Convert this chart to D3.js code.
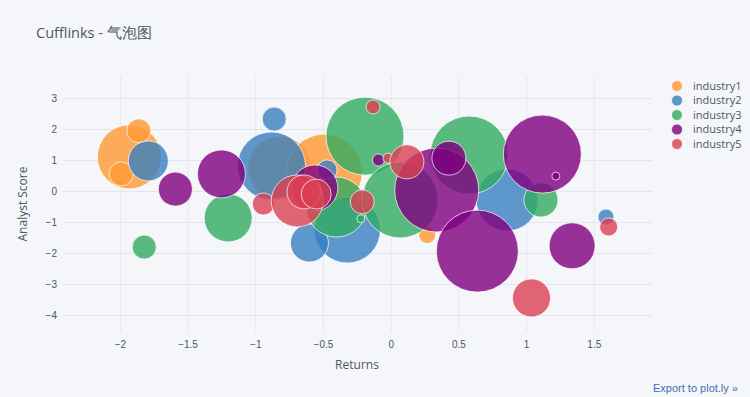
<!DOCTYPE html>
<html>
<head>
<meta charset="utf-8">
<script src="https://cdn.jsdelivr.net/npm/d3@7"></script>
<style>
  body { margin: 0; background: #F5F6F9; }
  svg { display: block; font-family: "Open Sans", "DejaVu Sans", sans-serif; }
</style>
</head>
<body>
<svg id="chart" width="750" height="397"></svg>
<script>
// series names and colours (cufflinks pearl theme)
var industries = ['industry1', 'industry2', 'industry3', 'industry4', 'industry5'];
var colors = ['#ff9933', '#3780bf', '#32ab60', '#800080', '#db4052'];

// [returns, analyst score, size]
var industry1 = [[-1.93, 1.10, 64], [-1.86, 1.94, 24], [-1.99, 0.55, 24], [-0.82, 0.74, 64],
                 [-0.49, 0.61, 76], [0.27, -1.42, 17]];
var industry2 = [[-1.79, 0.97, 40], [-0.86, 2.32, 24], [-0.88, 0.81, 68], [-0.47, 0.68, 20],
                 [-0.32, -1.26, 66], [-0.60, -1.68, 38], [0.86, -0.29, 62], [1.59, -0.84, 16],
                 [0.40, 1.06, 32]];
var industry3 = [[-1.82, -1.81, 24], [-1.20, -0.87, 48], [-0.19, 1.77, 78], [-0.40, -0.52, 60],
                 [-0.22, -0.90, 8], [0.07, -0.29, 76], [0.58, 1.16, 78], [1.11, -0.29, 34]];
var industry4 = [[-1.59, 0.06, 34], [-1.25, 0.55, 48], [-0.56, 0.10, 46], [-0.09, 1.00, 12],
                 [0.34, 0.03, 84], [0.43, 1.06, 34], [1.12, 1.19, 78], [1.22, 0.48, 8],
                 [0.64, -1.94, 82], [1.34, -1.77, 46]];
var industry5 = [[-0.13, 2.71, 14], [-0.02, 1.06, 10], [0.12, 0.94, 34], [-0.94, -0.42, 22],
                 [-0.69, -0.32, 52], [-0.64, -0.03, 34], [-0.55, -0.10, 30], [-0.21, -0.35, 24],
                 [1.04, -3.45, 38], [1.61, -1.16, 18]];
var series = [industry1, industry2, industry3, industry4, industry5];

var xTicks = [-2, -1.5, -1, -0.5, 0, 0.5, 1, 1.5];
var yTicks = [-4, -3, -2, -1, 0, 1, 2, 3];

var svg = d3.select('#chart');
var textColor = '#4D5663';
var gridColor = '#E1E5ED';

var x = d3.scaleLinear().domain([-2.42, 1.93]).range([63, 652]);
var y = d3.scaleLinear().domain([-4.55, 3.71]).range([332, 76]);
var r = d3.scaleLinear().domain([0, 100]).range([0, 50]);

var fmt = function(v) { return String(v).replace('-', '\u2212'); };

// grid
var xAxis = d3.axisBottom(x).tickValues(xTicks).tickSize(-(332 - 76)).tickFormat(fmt);
var gx = svg.append('g').attr('transform', 'translate(0,332)').call(xAxis);
gx.select('.domain').remove();
gx.selectAll('line').attr('stroke', '#E6E8EE');
gx.selectAll('text').attr('fill', textColor).attr('font-size', 10).attr('dy', '1.3em');

var yAxis = d3.axisLeft(y).tickValues(yTicks).tickSize(-(652 - 63)).tickFormat(fmt);
var gy = svg.append('g').attr('transform', 'translate(63,0)').call(yAxis);
gy.select('.domain').remove();
gy.selectAll('line').attr('stroke', gridColor);
gy.selectAll('text').attr('fill', textColor).attr('font-size', 10).attr('x', -6);

// bubbles, one layer per industry in trace order
series.forEach(function(pts, i) {
  svg.append('g')
    .attr('class', 'trace')
    .selectAll('circle')
    .data(pts)
    .enter().append('circle')
      .attr('cx', function(d) { return x(d[0]); })
      .attr('cy', function(d) { return y(d[1]); })
      .attr('r', function(d) { return r(d[2]); })
      .attr('fill', colors[i])
      .attr('fill-opacity', 0.8)
      .attr('stroke', '#ffffff')
      .attr('stroke-opacity', 0.7)
      .attr('stroke-width', 1);
});

// titles
svg.append('text').attr('x', 36).attr('y', 38)
  .attr('fill', textColor).attr('font-size', 14.5)
  .text('Cufflinks - 气泡图');

svg.append('text').attr('x', 357).attr('y', 369)
  .attr('text-anchor', 'middle').attr('fill', textColor).attr('font-size', 12)
  .text('Returns');

svg.append('text')
  .attr('transform', 'translate(27,204) rotate(-90)')
  .attr('text-anchor', 'middle').attr('fill', textColor).attr('font-size', 12)
  .text('Analyst Score');

// legend
var legend = svg.append('g').attr('transform', 'translate(677,86)');
var item = legend.selectAll('g').data(industries).enter().append('g')
  .attr('transform', function(d, i) { return 'translate(0,' + (i * 14.5) + ')'; });
item.append('circle').attr('r', 5.5)
  .attr('fill', function(d, i) { return colors[i]; })
  .attr('fill-opacity', 0.8)
  .attr('stroke', '#fff').attr('stroke-opacity', 0.7);
item.append('text').attr('x', 16).attr('dy', '0.35em')
  .attr('fill', textColor).attr('font-size', 11)
  .text(function(d) { return d; });

// export link
svg.append('text').attr('x', 738).attr('y', 392)
  .attr('text-anchor', 'end').attr('fill', '#3b70b5').attr('font-size', 11)
  .attr('font-family', '"Liberation Sans", Arial, sans-serif')
  .text('Export to plot.ly \u00bb');
</script>
</body>
</html>
